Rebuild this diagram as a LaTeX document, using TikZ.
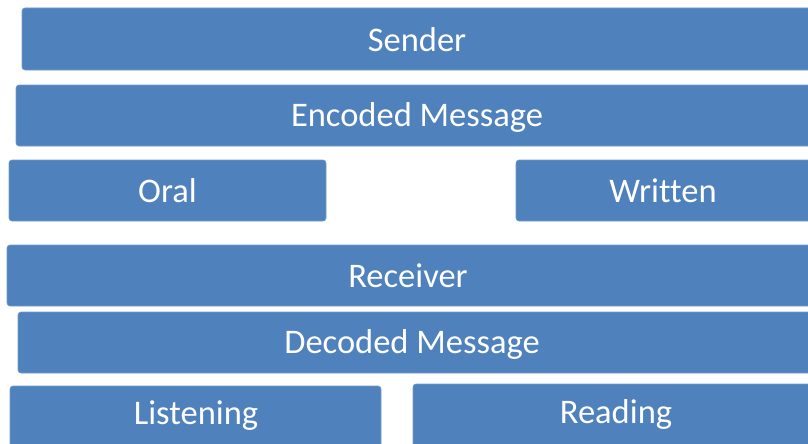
\documentclass[tikz,border=0pt]{standalone}
\usepackage{fontspec}
\setmainfont[Ligatures={NoCommon}]{Carlito}
\definecolor{boxblue}{HTML}{4F81BD}
\tikzset{
  blk/.style={fill=boxblue, draw=boxblue!80!white, line width=0.6pt, rounded corners=3pt, inner sep=0pt, outer sep=0pt},
  lbl/.style={text=white, font=\fontsize{34.5}{38}\selectfont, inner sep=0pt}
}
\begin{document}
\begin{tikzpicture}[x=1pt,y=-1pt]
\useasboundingbox (0,0) rectangle (808,444);
\begin{scope}
\clip (0,0) rectangle (808,444);
\draw[blk] (22,8) rectangle (815,70);
\draw[blk] (16,85) rectangle (818,146);
\draw[blk] (9,160) rectangle (326,221);
\draw[blk] (516,160) rectangle (812,221);
\draw[blk] (7,245) rectangle (812,306);
\draw[blk] (18,312) rectangle (812,373);
\draw[blk] (10,386) rectangle (381,450);
\draw[blk] (413,384) rectangle (820,450);
\end{scope}
\node[lbl] (sender) at (417,40) {Sender};
\node[lbl] (enc) at (417,117) {Encoded Message};
\node[lbl] (oral) at (167.5,191) {Oral};
\node[lbl] (written) at (663,191) {Written};
\node[lbl] (recv) at (408,276) {Receiver};
\node[lbl] (dec) at (412,344) {Decoded Message};
\node[lbl] (listen) at (196,416) {Listening};
\node[lbl] (read) at (616,414) {Reading};
\end{tikzpicture}
\end{document}
